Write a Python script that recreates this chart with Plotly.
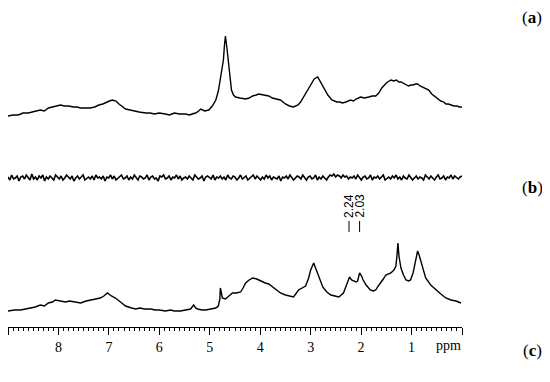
import numpy as np
import plotly.graph_objects as go

# spectrum (a): ppm / intensity (arbitrary units)
ppm_a = [9.0, 8.9, 8.8, 8.7, 8.6, 8.5, 8.36, 8.28, 8.2, 8.12, 8.06, 7.96, 7.88, 7.8, 7.7, 7.63, 7.56,
         7.47, 7.37, 7.28, 7.2, 7.12, 7.05, 6.99, 6.93, 6.86, 6.8, 6.74, 6.67, 6.58, 6.5, 6.4, 6.27,
         6.18, 6.1, 6.0, 5.88, 5.8, 5.7, 5.6, 5.48, 5.4, 5.35, 5.28, 5.22, 5.18, 5.1, 5.02, 4.95,
         4.88, 4.83, 4.79, 4.76, 4.73, 4.71, 4.69, 4.66, 4.63, 4.6, 4.57, 4.53, 4.49, 4.4, 4.29,
         4.22, 4.15, 4.08, 4.03, 3.93, 3.83, 3.76, 3.69, 3.6, 3.5, 3.42, 3.34, 3.25, 3.2, 3.1, 3.0,
         2.93, 2.86, 2.8, 2.74, 2.66, 2.58, 2.48, 2.42, 2.37, 2.3, 2.21, 2.15, 2.1, 2.01, 1.93, 1.85,
         1.78, 1.71, 1.65, 1.59, 1.5, 1.41, 1.35, 1.3, 1.25, 1.21, 1.12, 1.06, 1.01, 0.97, 0.92,
         0.88, 0.83, 0.78, 0.72, 0.66, 0.6, 0.55, 0.48, 0.42, 0.36, 0.32, 0.27, 0.22, 0.16, 0.1, 0.05, 0.0]
int_a = [0, 1, 1, 3, 3, 4, 6, 5, 8, 9, 10, 11, 10, 10, 9, 9, 8,
         8, 8, 9, 11, 12, 14, 15, 16, 15, 12, 10, 7, 6, 5, 4, 3,
         3, 2, 3, 2, 1, 3, 2, 2, 1, 2, 3, 5, 7, 5, 6, 10,
         16, 25, 36, 46, 56, 70, 80, 68, 56, 40, 26, 21, 19, 18, 17,
         18, 20, 21, 22, 21, 20, 18, 17, 16, 12, 10, 9, 11, 14, 22, 31,
         37, 39, 34, 28, 21, 16, 14, 14, 13, 14, 16, 15, 17, 19, 18, 19,
         20, 20, 23, 28, 33, 36, 35, 36, 34, 34, 32, 30, 31, 31, 32,
         32, 30, 29, 27, 26, 22, 20, 17, 15, 14, 12, 12, 11, 10, 10, 9, 9]

# spectrum (b): difference trace, mostly noise
noise_b = [1, -2, 3, -1, 0, 2, -3, 1, 2, -1, 3, 0, -2, 4, -1, 1, -2, 2, 0, 3, -3, 1, -1, 2, 0,
           -2, 3, 1, -1, 2, -2, 0, 3, 1, -1, 2, -3, 0, 2, -1, 1, 3, -2, 0, 1, -1, 2, -2, 3, 0,
           1, -1, 2, -3, 1, 0, 3, -1, 2, -2, 0, 1, 3, -1, 0, 2, -2, 1, -1, 3, 0, -2, 2, 1, -1,
           0, 3, -2, 1, 2, -1, 0, -3, 2, 1, 3, -1, 0, 2, -2, 1, 0, 3, -1, 2, -2, 0, 1, -1, 2,
           0, -2, 3, 1, -1, 0, 2, -3, 1, 2, 0, -1, 3, -2, 1, 0, 2, -1, 1, -2, 3, 0, -1, 2, 1,
           -2, 0, 3, -1, 1, 2, -2, 0, 1, 3, -1, 2, 0, -2, 1, -1, 3, 0, 2, -2, 1, 0, -1, 2, -3,
           1, 0, 2, -1, 3, 1, -2, 0, 2, 1, -1, 3, 0, -2, 1, 2, -1, 0, 3, -2, 1, -1, 2, 0, -2,
           1, 3, 2, 4, 1, 3, 2, 0, 3, 1, 2, -1, 1, 0, 2, -1, 3, 0, -2, 1, 2, -1, 0, 3, -2,
           1, 0, 2, -1, 1, 3, -2, 0, 1, -1, 2, 0, 3, -1, 1, -2, 2, 0, -1, 3, 1, -2, 0, 2, -1,
           1, 0, -2, 3, 1, -1, 2, 0, -2, 1, 3, -1, 0, 2, -2, 1, 0, 3, -1, 2, 0, -1, 1, 2]
ppm_b = np.linspace(9.0, 0.0, len(noise_b))

# spectrum (c)
ppm_c = [9.0, 8.87, 8.75, 8.66, 8.56, 8.46, 8.36, 8.28, 8.2, 8.12, 8.06, 7.96, 7.86, 7.78, 7.7,
         7.62, 7.56, 7.45, 7.37, 7.25, 7.17, 7.1, 7.03, 6.95, 6.87, 6.77, 6.67, 6.55, 6.47,
         6.38, 6.3, 6.17, 6.08, 6.0, 5.88, 5.78, 5.7, 5.58, 5.45, 5.38, 5.32, 5.28, 5.24, 5.15,
         5.08, 4.98, 4.88, 4.83, 4.8, 4.79, 4.77, 4.75, 4.69, 4.62, 4.55, 4.47, 4.39, 4.34,
         4.29, 4.22, 4.15, 4.07, 3.99, 3.9, 3.83, 3.75, 3.69, 3.6, 3.5, 3.42, 3.34, 3.24, 3.17,
         3.1, 3.04, 3.0, 2.94, 2.9, 2.86, 2.8, 2.76, 2.68, 2.6, 2.52, 2.44, 2.35, 2.29, 2.23,
         2.19, 2.15, 2.1, 2.07, 2.03, 1.99, 1.96, 1.9, 1.82, 1.76, 1.71, 1.66, 1.61, 1.56,
         1.51, 1.45, 1.41, 1.35, 1.31, 1.29, 1.27, 1.25, 1.21, 1.16, 1.11, 1.06, 1.02, 0.97,
         0.92, 0.9, 0.88, 0.85, 0.82, 0.77, 0.72, 0.62, 0.52, 0.42, 0.32, 0.22, 0.12, 0.02]
int_c = [0, 1, 1, 2, 3, 4, 6, 5, 8, 9, 11, 10, 9, 10, 9,
         8, 8, 10, 11, 12, 13, 15, 18, 15, 13, 9, 5, 3, 2,
         3, 2, 2, 1, 1, 0, 1, 0, 0, 1, 2, 6, 3, 2, 1,
         1, 2, 3, 5, 12, 23, 18, 13, 12, 15, 18, 18, 19, 23,
         28, 31, 33, 32, 30, 28, 27, 24, 21, 18, 16, 15, 14, 21, 23,
         25, 33, 41, 48, 43, 36, 29, 24, 19, 16, 15, 14, 18, 26, 34,
         31, 30, 29, 30, 38, 35, 31, 26, 21, 20, 21, 25, 28, 32,
         36, 37, 38, 41, 45, 55, 68, 55, 43, 36, 31, 30, 31, 38,
         51, 56, 60, 56, 51, 42, 33, 26, 21, 17, 13, 11, 10, 8]

# stacking offsets (y axis in pixel-like units)
off_a, off_b, off_c = 266, 204, 71

W, H = 542, 374  # page body adds an 8 px margin

line = dict(color="black", width=1.4)
fig = go.Figure()
fig.add_trace(go.Scatter(x=ppm_a, y=np.array(int_a) + off_a, mode="lines", line=line))
fig.add_trace(go.Scatter(x=ppm_b, y=np.array(noise_b) + off_b, mode="lines", line=dict(color="black", width=1.6)))
fig.add_trace(go.Scatter(x=ppm_c, y=np.array(int_c) + off_c, mode="lines", line=line))

serif = "Liberation Serif, Times New Roman, serif"

# peak markers 2.24 / 2.03
for v in [2.24, 2.03]:
    fig.add_shape(type="line", x0=v, x1=v, y0=150, y1=161, line=dict(color="black", width=1))
    fig.add_annotation(x=v, y=162, text=f"{v:.2f}", textangle=-90, showarrow=False,
                       xanchor="center", yanchor="bottom",
                       font=dict(family="Liberation Sans Narrow, Liberation Sans, sans-serif", size=12, color="black"))

for lab, yp in [("a", 18), ("b", 188), ("c", 350)]:
    fig.add_annotation(xref="paper", yref="paper", x=(532 - 8) / W, y=1 - (yp - 8) / H,
                       text=f"(<b>{lab}</b>)", showarrow=False, xanchor="center", yanchor="middle",
                       font=dict(family=serif, size=17, color="black"))

fig.add_annotation(xref="paper", yref="paper", x=(448 - 8) / W, y=1 - (345 - 8) / H, text="ppm",
                   showarrow=False, xanchor="center", yanchor="middle",
                   font=dict(family=serif, size=14, color="black"))

fig.update_layout(
    width=W, height=H, margin=dict(l=0, r=0, t=0, b=0),
    paper_bgcolor="white", plot_bgcolor="white", showlegend=False,
    xaxis=dict(range=[9, 0], domain=[0, 454 / W], anchor="free", position=55 / H,
               showgrid=False, zeroline=False, showline=True, linecolor="black", linewidth=1,
               ticks="outside", ticklen=7, tickwidth=1, tickcolor="black",
               tickvals=list(range(0, 10)), ticktext=["", "1", "2", "3", "4", "5", "6", "7", "8", ""],
               tickfont=dict(family=serif, size=14, color="black"),
               minor=dict(dtick=0.1, tick0=0, ticks="outside", ticklen=3, tickwidth=1, tickcolor="black")),
    yaxis=dict(range=[0, H], domain=[0, 1], visible=False),
)

fig.write_html("out.html")
